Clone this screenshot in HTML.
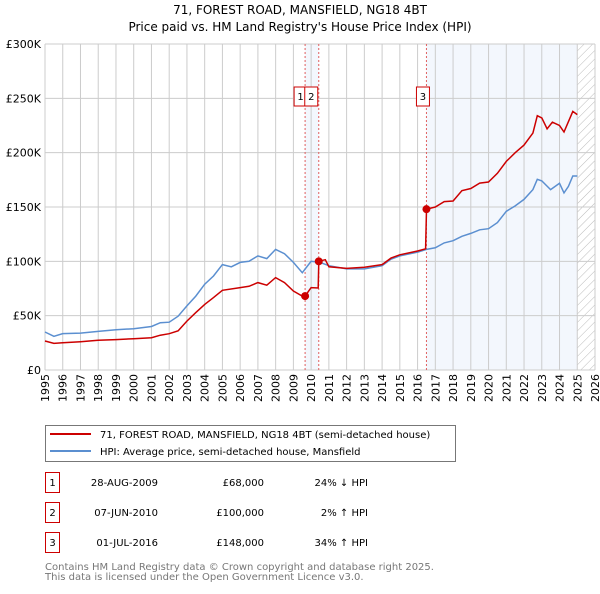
<!DOCTYPE html>
<html><head><meta charset="utf-8"><style>
body{margin:0;background:#fff;font-family:"DejaVu Sans","Liberation Sans",sans-serif;}
svg text{font-family:"DejaVu Sans","Liberation Sans",sans-serif;}
</style></head><body>
<svg id="c" width="600" height="590" viewBox="0 0 600 590" xmlns="http://www.w3.org/2000/svg">
<defs><pattern id="hatch" width="6" height="6" patternUnits="userSpaceOnUse" patternTransform="rotate(45)"><line x1="0" y1="0" x2="0" y2="6" stroke="#bbb" stroke-width="1"/></pattern></defs>
<text x="300" y="14" text-anchor="middle" font-size="12">71, FOREST ROAD, MANSFIELD, NG18 4BT</text>
<text x="300" y="31" text-anchor="middle" font-size="12">Price paid vs. HM Land Registry's House Price Index (HPI)</text>
<g id="plot"></g>
<g>
<rect x="45.5" y="425.5" width="410" height="36" fill="#fff" stroke="#777"/>
<line x1="50" y1="434" x2="91" y2="434" stroke="#cc0000" stroke-width="2"/>
<text x="100" y="438" font-size="10">71, FOREST ROAD, MANSFIELD, NG18 4BT (semi-detached house)</text>
<line x1="50" y1="451" x2="91" y2="451" stroke="#5b8fd0" stroke-width="2"/>
<text x="100" y="455" font-size="10">HPI: Average price, semi-detached house, Mansfield</text>
</g>
<g id="table" font-size="10"></g>
<text x="45" y="570" font-size="10" fill="#777">Contains HM Land Registry data © Crown copyright and database right 2025.</text>
<text x="45" y="580" font-size="10" fill="#777">This data is licensed under the Open Government Licence v3.0.</text>
</svg>
<script>
const hpiYears=[1995,1995.5,1996,1997,1998,1999,2000,2001,2001.5,2002,2002.5,2003,2003.5,2004,2004.5,2005,2005.5,2006,2006.5,2007,2007.5,2008,2008.5,2009,2009.5,2010,2010.5,2011,2012,2013,2014,2014.5,2015,2016,2016.5,2017,2017.5,2018,2018.5,2019,2019.5,2020,2020.5,2021,2021.5,2022,2022.5,2022.75,2023,2023.5,2024,2024.25,2024.5,2024.75,2025];
const hpiValues=[35,31,33.5,34,35.5,37,38,40,43.5,44,49.5,59,68,79,86.5,97,95,99,100,105,102.5,111,107,99,89.5,100,99,96,93,93,96,102,105,108.5,111,112.5,117,119,123,125.7,129,130,135.6,146,151,157,166,175.5,174,166,171.8,163,169,178.5,178.5];
const priceYears=[1995,1995.5,1996,1997,1998,1999,2000,2001,2001.5,2002,2002.5,2003,2003.5,2004,2004.5,2005,2006,2006.5,2007,2007.5,2008,2008.5,2009,2009.5,2009.66,2010,2010.4,2010.43,2010.8,2011,2012,2013,2014,2014.5,2015,2016,2016.45,2016.5,2017,2017.5,2018,2018.5,2019,2019.5,2020,2020.5,2021,2021.5,2022,2022.5,2022.75,2023,2023.3,2023.6,2024,2024.25,2024.75,2025];
const priceValues=[26.7,24.5,25,26,27.3,28,28.8,29.7,32,33.4,36,45,52.8,60.4,66.6,73.3,75.8,77,80.4,78,85,80.4,72.7,68,68,75.8,75.5,100,101.5,95,93.5,94.5,97,103,106,109.5,111.5,148,150,155,155.5,165,167,172,173,181,192,200,207,218,234,232,222,228,225,219,238,235];
const saleDates=[2009.66,2010.43,2016.5];
const saleValues=[68,100,148];
const saleLabels=["1","2","3"];
const saleDateText=["28-AUG-2009","07-JUN-2010","01-JUL-2016"];
const salePriceText=["£68,000","£100,000","£148,000"];
const saleHpiText=["24% ↓ HPI","2% ↑ HPI","34% ↑ HPI"];
const yTicks=[0,50,100,150,200,250,300];
const yTickLabels=["£0","£50K","£100K","£150K","£200K","£250K","£300K"];
const xTicks=[1995,1996,1997,1998,1999,2000,2001,2002,2003,2004,2005,2006,2007,2008,2009,2010,2011,2012,2013,2014,2015,2016,2017,2018,2019,2020,2021,2022,2023,2024,2025,2026];

const L=45,R=595,T=44,B=370;
const x=v=>L+(v-1995)/(2026-1995)*(R-L);
const y=v=>B-v/300*(B-T);
const NS="http://www.w3.org/2000/svg";
const plot=document.getElementById('plot');
function mk(tag,attrs,parent){const e=document.createElementNS(NS,tag);for(const k in attrs)e.setAttribute(k,attrs[k]);(parent||plot).appendChild(e);return e;}
let e;
e=mk('rect',{x:x(2009.66),y:T,width:x(2010.43)-x(2009.66),height:B-T,fill:'#eef3fc',opacity:0.7});


e=mk('rect',{x:x(2016.5),y:T,width:x(2025)-x(2016.5),height:B-T,fill:'#eef3fc',opacity:0.7});


e=mk('rect',{x:x(2025),y:T,width:R-x(2025),height:B-T,fill:'url(#hatch)'});


xTicks.forEach(t=>{
 e=mk('line',{x1:x(t),x2:x(t),y1:T,y2:B,stroke:'#ccc','stroke-width':1});
 
 
 const tx=x(t)+4,ty=B+4;
 e=mk('text',{x:tx,y:ty,'font-size':11,'text-anchor':'end',transform:'rotate(-90 '+tx+' '+ty+')'});
 e.textContent=t;
 
 
});
yTicks.forEach((t,i)=>{
 e=mk('line',{x1:L,x2:R,y1:y(t),y2:y(t),stroke:'#ccc','stroke-width':1});
 
 
 e=mk('text',{x:L-4,y:y(t)+4,'font-size':11,'text-anchor':'end'});
 e.textContent=yTickLabels[i];
 
 
});
saleDates.forEach((d,i)=>{
 e=mk('line',{x1:x(d),x2:x(d),y1:T,y2:B,stroke:'#e06060','stroke-width':1,'stroke-dasharray':'2,2'});
 
 
});
function pts(xs,vs){return xs.map((t,i)=>x(t).toFixed(1)+','+y(vs[i]).toFixed(1)).join(' ');}
e=mk('polyline',{points:pts(hpiYears,hpiValues),fill:'none',stroke:'#5b8fd0','stroke-width':1.5});


e=mk('polyline',{points:pts(priceYears,priceValues),fill:'none',stroke:'#cc0000','stroke-width':1.5});


saleDates.forEach((d,i)=>{
 e=mk('circle',{cx:x(d),cy:y(saleValues[i]),r:4,fill:'#cc0000'});
 
 
 const bx=i===0?x(d)-11:(i===1?x(d)-14:x(d)-10);
 e=mk('rect',{x:bx,y:87,width:13,height:19,fill:'#fff',stroke:'#cc0000'});
 
 
 e=mk('text',{x:bx+6.5,y:100,'font-size':10,'text-anchor':'middle'});
 e.textContent=saleLabels[i];
 
 
});
const tbl=document.getElementById('table');
saleLabels.forEach((s,i)=>{
 const ry=483+i*30;
 e=mk('rect',{x:45.5,y:ry-10.5,width:14,height:20,fill:'#fff',stroke:'#cc0000'},tbl);
 
 
 e=mk('text',{x:52.5,y:ry+3,'text-anchor':'middle'},tbl);e.textContent=s;
 
 
 e=mk('text',{x:158,y:ry+3,'text-anchor':'end'},tbl);e.textContent=saleDateText[i];
 
 
 e=mk('text',{x:264,y:ry+3,'text-anchor':'end'},tbl);e.textContent=salePriceText[i];
 
 
 e=mk('text',{x:368,y:ry+3,'text-anchor':'end'},tbl);e.textContent=saleHpiText[i];
 
 
});
</script>
</body></html>
